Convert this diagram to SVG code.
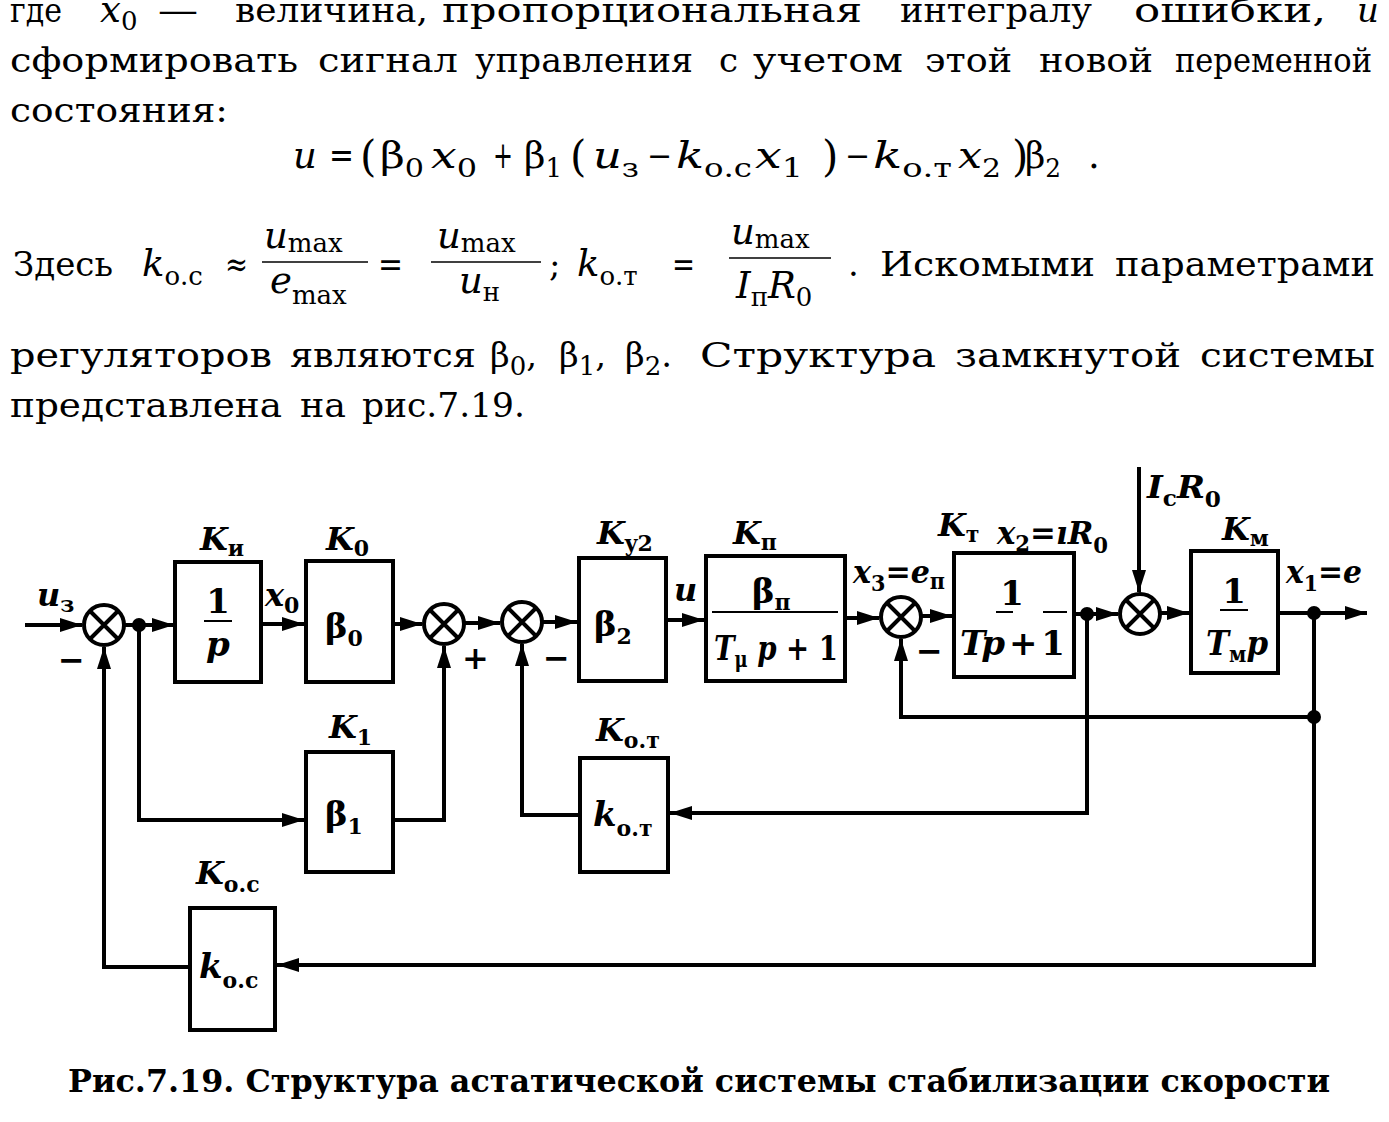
<svg xmlns="http://www.w3.org/2000/svg" width="1389" height="1122" viewBox="0 0 1389 1122">
<defs>
<style>
text { font-family: "DejaVu Serif", "Liberation Serif", serif; fill: #000; }
.p { font-size: 34px; }
.m { font-size: 37px; }
.mn { font-size: 30px; }
.i { font-style: italic; }
.b { font-weight: bold; }
.sub { font-size: 26px; font-style: normal; }
.par { font-size: 42px; }
.lbl { font-size: 32px; font-weight: bold; }
.ls { font-size: 22px; font-weight: bold; font-style: normal; }
.bx { font-size: 34px; font-weight: bold; }
.cap { font-size: 31px; font-weight: bold; }
.box { fill: #fff; stroke: #000; stroke-width: 4; }
.ar { fill: none; stroke: #000; stroke-width: 4; marker-end: url(#arr); }
.sum circle { fill: #fff; stroke: #000; stroke-width: 4; }
.sum path { stroke: #000; stroke-width: 4; fill: none; }
.dot { fill: #000; }
.fr { stroke: #000; stroke-width: 2; }
.frt { stroke: #000; stroke-width: 1.5; }
</style>
<marker id="arr" markerUnits="userSpaceOnUse" markerWidth="22" markerHeight="14" refX="22" refY="7" orient="auto">
<path d="M0,0 L22,7 L0,14 z" fill="#000"/>
</marker>
</defs>
<rect x="0" y="0" width="1389" height="1122" fill="#fff"/>

<!-- body text -->
<g id="body-text">
<text class="p" x="10" y="22" textLength="52" lengthAdjust="spacingAndGlyphs">где</text>
<text class="m i" x="100" y="22">x<tspan class="sub" dy="8">0</tspan></text>
<text class="p" x="158" y="22" textLength="40" lengthAdjust="spacingAndGlyphs">—</text>
<text class="p" x="235" y="22" textLength="193" lengthAdjust="spacingAndGlyphs">величина,</text>
<text class="p" x="442" y="22" textLength="420" lengthAdjust="spacingAndGlyphs">пропорциональная</text>
<text class="p" x="900" y="22" textLength="192" lengthAdjust="spacingAndGlyphs">интегралу</text>
<text class="p" x="1134" y="22" textLength="192" lengthAdjust="spacingAndGlyphs">ошибки,</text>
<text class="p i" x="1357" y="22">и</text>

<text class="p" x="10" y="72" textLength="288" lengthAdjust="spacingAndGlyphs">сформировать</text>
<text class="p" x="318" y="72" textLength="140" lengthAdjust="spacingAndGlyphs">сигнал</text>
<text class="p" x="475" y="72" textLength="218" lengthAdjust="spacingAndGlyphs">управления</text>
<text class="p" x="719" y="72">с</text>
<text class="p" x="753" y="72" textLength="150" lengthAdjust="spacingAndGlyphs">учетом</text>
<text class="p" x="925" y="72" textLength="87" lengthAdjust="spacingAndGlyphs">этой</text>
<text class="p" x="1039" y="72" textLength="114" lengthAdjust="spacingAndGlyphs">новой</text>
<text class="p" x="1175" y="72" textLength="197" lengthAdjust="spacingAndGlyphs">переменной</text>

<text class="p" x="10" y="122" textLength="218" lengthAdjust="spacingAndGlyphs">состояния:</text>

<!-- formula -->
<text class="m i" x="293" y="168">u</text>
<text class="m" x="329" y="168" textLength="25" lengthAdjust="spacingAndGlyphs">=</text>
<text class="par" x="360" y="171">(</text>
<text class="m" x="380" y="168" textLength="44" lengthAdjust="spacingAndGlyphs">β<tspan class="sub" dy="9">0</tspan></text>
<text class="m i" x="431" y="168" textLength="46" lengthAdjust="spacingAndGlyphs">x<tspan class="sub" dy="9">0</tspan></text>
<text class="m" x="493" y="168" textLength="20" lengthAdjust="spacingAndGlyphs">+</text>
<text class="m" x="524" y="168" textLength="38" lengthAdjust="spacingAndGlyphs">β<tspan class="sub" dy="9">1</tspan></text>
<text class="par" x="570" y="171">(</text>
<text class="m i" x="593" y="168" textLength="46" lengthAdjust="spacingAndGlyphs">u<tspan class="sub" dy="9">з</tspan></text>
<text class="mn" x="647" y="166">−</text>
<text class="m i" x="676" y="168" textLength="76" lengthAdjust="spacingAndGlyphs">k<tspan class="sub" dy="9">о.с</tspan></text>
<text class="m i" x="755" y="168" textLength="48" lengthAdjust="spacingAndGlyphs">x<tspan class="sub" dy="9">1</tspan></text>
<text class="par" x="822" y="171">)</text>
<text class="mn" x="845" y="166">−</text>
<text class="m i" x="873" y="168" textLength="79" lengthAdjust="spacingAndGlyphs">k<tspan class="sub" dy="9">о.т</tspan></text>
<text class="m i" x="958" y="168" textLength="43" lengthAdjust="spacingAndGlyphs">x<tspan class="sub" dy="9">2</tspan></text>
<text class="par" x="1012" y="171">)</text>
<text class="m" x="1025" y="168" textLength="36" lengthAdjust="spacingAndGlyphs">β<tspan class="sub" dy="9">2</tspan></text>
<text class="m" x="1088" y="168">.</text>

<!-- Здесь line -->
<text class="p" x="13" y="276" textLength="100" lengthAdjust="spacingAndGlyphs">Здесь</text>
<text class="m i" x="142" y="276">k<tspan class="sub" dy="9">о.с</tspan></text>
<text class="p" x="225" y="276" textLength="23" lengthAdjust="spacingAndGlyphs">≈</text>
<text class="m i" x="264" y="248">u<tspan class="sub" dy="4">max</tspan></text>
<line class="frt" x1="262" y1="262" x2="368" y2="262"/>
<text class="m i" x="270" y="293">e<tspan class="sub" dy="11">max</tspan></text>
<text class="p" x="378" y="276" textLength="25" lengthAdjust="spacingAndGlyphs">=</text>
<text class="m i" x="437" y="248">u<tspan class="sub" dy="4">max</tspan></text>
<line class="frt" x1="431" y1="262" x2="541" y2="262"/>
<text class="m i" x="459" y="293">u<tspan class="sub" dy="8">н</tspan></text>
<text class="p" x="549" y="276">;</text>
<text class="m i" x="577" y="276">k<tspan class="sub" dy="9">о.т</tspan></text>
<text class="p" x="672" y="276" textLength="23" lengthAdjust="spacingAndGlyphs">=</text>
<text class="m i" x="731" y="244">u<tspan class="sub" dy="4">max</tspan></text>
<line class="frt" x1="729" y1="258" x2="831" y2="258"/>
<text class="m i" x="736" y="298">I<tspan class="sub" dy="8">п</tspan><tspan dy="-8">R</tspan><tspan class="sub" dy="8">0</tspan></text>
<text class="p" x="848" y="276">.</text>
<text class="p" x="880" y="276" textLength="215" lengthAdjust="spacingAndGlyphs">Искомыми</text>
<text class="p" x="1115" y="276" textLength="260" lengthAdjust="spacingAndGlyphs">параметрами</text>

<text class="p" x="10" y="367" textLength="262" lengthAdjust="spacingAndGlyphs">регуляторов</text>
<text class="p" x="290" y="367" textLength="186" lengthAdjust="spacingAndGlyphs">являются</text>
<text class="p" x="490" y="367">β<tspan class="sub" dy="8">0</tspan><tspan dy="-8">,</tspan></text>
<text class="p" x="559" y="367">β<tspan class="sub" dy="8">1</tspan><tspan dy="-8">,</tspan></text>
<text class="p" x="625" y="367">β<tspan class="sub" dy="8">2</tspan><tspan dy="-8">.</tspan></text>
<text class="p" x="700" y="367" textLength="236" lengthAdjust="spacingAndGlyphs">Структура</text>
<text class="p" x="955" y="367" textLength="226" lengthAdjust="spacingAndGlyphs">замкнутой</text>
<text class="p" x="1200" y="367" textLength="175" lengthAdjust="spacingAndGlyphs">системы</text>
<text class="p" x="10" y="417" textLength="272" lengthAdjust="spacingAndGlyphs">представлена</text>
<text class="p" x="300" y="417" textLength="46" lengthAdjust="spacingAndGlyphs">на</text>
<text class="p" x="362" y="417" textLength="163" lengthAdjust="spacingAndGlyphs">рис.7.19.</text>
</g>

<!-- connectors -->
<g id="connectors">
<path class="ar" d="M25,625 H82"/>
<path class="ar" d="M124,625 H174"/>
<path class="ar" d="M263,624 H304"/>
<path class="ar" d="M395,624 H422"/>
<path class="ar" d="M464,623 H500"/>
<path class="ar" d="M542,622 H577"/>
<path class="ar" d="M668,620 H704"/>
<path class="ar" d="M847,618 H879"/>
<path class="ar" d="M921,616 H952"/>
<path class="ar" d="M1076,614 H1118"/>
<path class="ar" d="M1139,467 V592"/>
<path class="ar" d="M1160,613 H1189"/>
<path class="ar" d="M1280,613 H1367"/>
<path class="ar" d="M1314,613 V965 H277"/>
<path class="ar" d="M1314,717 H901 V639"/>
<path class="ar" d="M1087,614 V813 H670"/>
<path class="ar" d="M578,815 H522 V644"/>
<path class="ar" d="M139,625 V820 H304"/>
<path class="ar" d="M395,820 H444 V646"/>
<path class="ar" d="M188,967 H104 V647"/>
<circle class="dot" cx="139" cy="625" r="7"/>
<circle class="dot" cx="1087" cy="614" r="7"/>
<circle class="dot" cx="1314" cy="613" r="7"/>
<circle class="dot" cx="1314" cy="717" r="7"/>
</g>

<!-- signal labels -->
<g id="signal-labels">
<text class="lbl i" x="37" y="606">u<tspan class="ls" dy="6">з</tspan></text>
<text class="lbl" x="58" y="671">−</text>
<text class="lbl i" x="265" y="606">x<tspan class="ls" dy="7">0</tspan></text>
<text class="lbl" x="462" y="669">+</text>
<text class="lbl" x="543" y="669">−</text>
<text class="lbl i" x="674" y="601">u</text>
<text class="lbl" x="853" y="583" textLength="92" lengthAdjust="spacingAndGlyphs"><tspan class="i">x</tspan><tspan class="ls" dy="8">3</tspan><tspan dy="-8">=</tspan><tspan class="i">e</tspan><tspan class="ls" dy="6">п</tspan></text>
<text class="lbl" x="916" y="662">−</text>
<text class="lbl" x="1147" y="498" textLength="74" lengthAdjust="spacingAndGlyphs"><tspan class="i">I</tspan><tspan class="ls" dy="8">c</tspan><tspan class="i" dy="-8">R</tspan><tspan class="ls" dy="9">0</tspan></text>
<text class="lbl" x="1286" y="583" textLength="76" lengthAdjust="spacingAndGlyphs"><tspan class="i">x</tspan><tspan class="ls" dy="8">1</tspan><tspan dy="-8">=</tspan><tspan class="i">e</tspan></text>
</g>

<!-- summing junctions -->
<g id="sum1" class="sum"><circle cx="104" cy="625" r="20"/><path d="M90,611 L118,639 M118,611 L90,639"/></g>
<g id="sum2" class="sum"><circle cx="444" cy="624" r="20"/><path d="M430,610 L458,638 M458,610 L430,638"/></g>
<g id="sum3" class="sum"><circle cx="522" cy="622" r="20"/><path d="M508,608 L536,636 M536,608 L508,636"/></g>
<g id="sum4" class="sum"><circle cx="901" cy="617" r="20"/><path d="M887,603 L915,631 M915,603 L887,631"/></g>
<g id="sum5" class="sum"><circle cx="1140" cy="614" r="20"/><path d="M1126,600 L1154,628 M1154,600 L1126,628"/></g>

<!-- blocks -->
<g id="block-Ki">
<rect class="box" x="175" y="562" width="86" height="120"/>
<text class="lbl i" x="200" y="550">K<tspan class="ls" dy="6">и</tspan></text>
<text class="bx" x="218" y="613" text-anchor="middle">1</text>
<line class="fr" x1="204" y1="621" x2="232" y2="621"/>
<text class="bx i" x="218" y="656" text-anchor="middle">p</text>
</g>
<g id="block-K0">
<rect class="box" x="306" y="561" width="87" height="121"/>
<text class="lbl i" x="326" y="550">K<tspan class="ls" dy="6">0</tspan></text>
<text class="bx" x="325" y="638">β<tspan class="ls" dy="8">0</tspan></text>
</g>
<g id="block-K1">
<rect class="box" x="306" y="752" width="87" height="120"/>
<text class="lbl i" x="329" y="738">K<tspan class="ls" dy="7">1</tspan></text>
<text class="bx" x="325" y="826">β<tspan class="ls" dy="8">1</tspan></text>
</g>
<g id="block-Ky2">
<rect class="box" x="579" y="558" width="87" height="123"/>
<text class="lbl i" x="597" y="544">K<tspan class="ls" dy="7" font-style="italic">y</tspan><tspan class="ls">2</tspan></text>
<text class="bx" x="594" y="636">β<tspan class="ls" dy="8">2</tspan></text>
</g>
<g id="block-Kp">
<rect class="box" x="706" y="556" width="139" height="125"/>
<text class="lbl i" x="733" y="544">K<tspan class="ls" dy="6">п</tspan></text>
<text class="bx" x="752" y="603">β<tspan class="ls" dy="7">п</tspan></text>
<line class="fr" x1="712" y1="612" x2="838" y2="612"/>
<text class="bx" x="714" y="660" textLength="124" lengthAdjust="spacingAndGlyphs"><tspan class="i">T</tspan><tspan class="ls" dy="7">μ</tspan><tspan class="i" dy="-7"> p</tspan><tspan> + 1</tspan></text>
</g>
<g id="block-Kt">
<rect class="box" x="954" y="553" width="120" height="124"/>
<text class="lbl i" x="938" y="536">K<tspan class="ls" dy="6">т</tspan></text>
<text class="lbl" x="997" y="544" textLength="111" lengthAdjust="spacingAndGlyphs"><tspan class="i">x</tspan><tspan class="ls" dy="7">2</tspan><tspan dy="-7">=</tspan><tspan class="i">ıR</tspan><tspan class="ls" dy="9">0</tspan></text>
<text class="bx" x="1012" y="605" text-anchor="middle">1</text>
<line class="fr" x1="996" y1="612" x2="1013" y2="612"/>
<line class="fr" x1="1043" y1="612" x2="1067" y2="612"/>
<text class="bx" x="960" y="655" textLength="105" lengthAdjust="spacing"><tspan class="i">Tp</tspan> + 1</text>
</g>
<g id="block-Km">
<rect class="box" x="1191" y="551" width="87" height="122"/>
<text class="lbl i" x="1222" y="540">K<tspan class="ls" dy="6">м</tspan></text>
<text class="bx" x="1234" y="603" text-anchor="middle">1</text>
<line class="fr" x1="1220" y1="610" x2="1248" y2="610"/>
<text class="bx i" x="1206" y="655" textLength="62" lengthAdjust="spacingAndGlyphs">T<tspan class="ls" dy="7">м</tspan><tspan dy="-7">p</tspan></text>
</g>
<g id="block-Kot">
<rect class="box" x="580" y="758" width="88" height="114"/>
<text class="lbl i" x="596" y="741">K<tspan class="ls" dy="7">о.т</tspan></text>
<text class="bx i" x="593" y="826">k<tspan class="ls" dy="10">о.т</tspan></text>
</g>
<g id="block-Koc">
<rect class="box" x="190" y="908" width="85" height="122"/>
<text class="lbl i" x="196" y="884">K<tspan class="ls" dy="8">о.с</tspan></text>
<text class="bx i" x="199" y="978">k<tspan class="ls" dy="10">о.с</tspan></text>
</g>

<text class="cap" x="68" y="1092" textLength="1262" lengthAdjust="spacingAndGlyphs">Рис.7.19. Структура астатической системы стабилизации скорости</text>
</svg>
